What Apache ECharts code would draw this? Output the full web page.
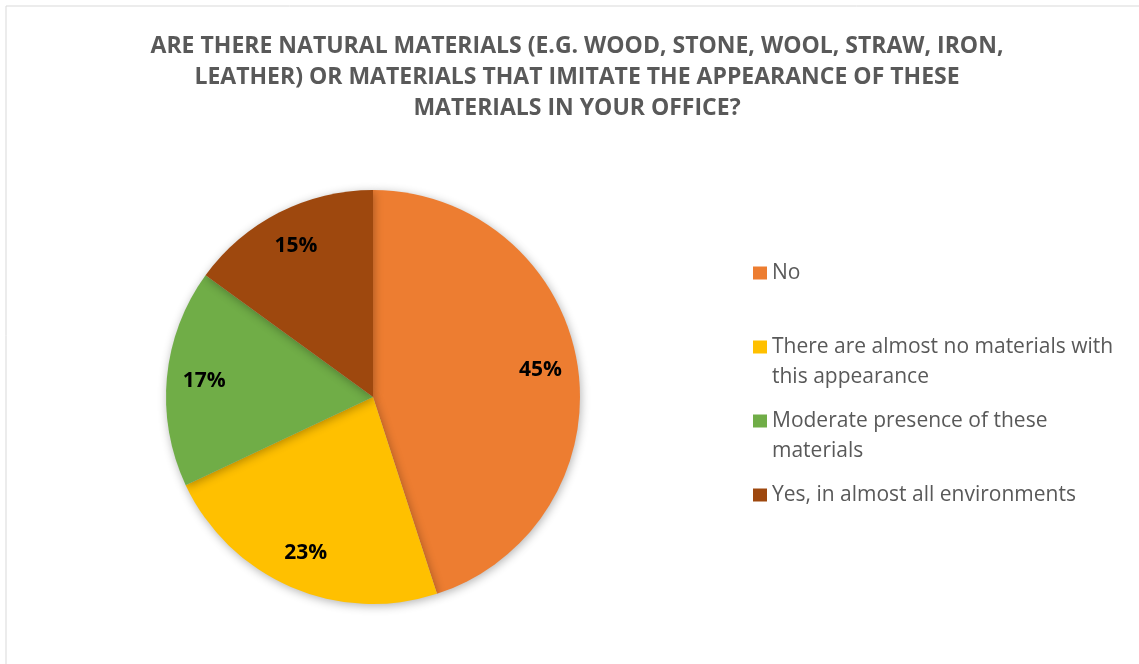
<!DOCTYPE html>
<html>
<head>
<meta charset="utf-8">
<script src="https://cdn.jsdelivr.net/npm/echarts@6/dist/echarts.min.js"></script>
<style>
  html, body { margin: 0; padding: 0; background: #fff; }
  #chart { width: 1139px; height: 664px; }
</style>
</head>
<body>
<div id="chart"></div>
<script>
// Survey answers and their shares (%)
const categories = [
  'No',
  'There are almost no materials with this appearance',
  'Moderate presence of these materials',
  'Yes, in almost all environments'
];
const shares = [45, 23, 17, 15];
const sliceColors = ['#ED7D31', '#FFC000', '#70AD47', '#9E480E'];
// Wrapped legend text for each answer
const legendLines = [
  ['No'],
  ['There are almost no materials with', 'this appearance'],
  ['Moderate presence of these', 'materials'],
  ['Yes, in almost all environments']
];
const titleText = 'ARE THERE NATURAL MATERIALS (E.G. WOOD, STONE, WOOL, STRAW, IRON,\nLEATHER) OR MATERIALS THAT IMITATE THE APPEARANCE OF THESE\nMATERIALS IN YOUR OFFICE?';

const FONT = '"Open Sans", "Noto Sans", sans-serif';
const TEXT_GREY = '#595959';
const LEGEND_LINE_H = 30;
const PIE_CENTER = [373, 397];
const PIE_R = 207;

const pieData = categories.map((name, i) => ({
  name,
  value: shares[i],
  itemStyle: { color: sliceColors[i] }
}));

// One legend block per answer so every entry starts on an even vertical step.
// Two-line entries get an empty leading line, which puts the swatch (centred
// on the block) beside the first line of text.
const firstLineCenters = [273, 347, 421, 495];
const legends = categories.map((name, i) => {
  const multi = legendLines[i].length > 1;
  const lines = multi ? [''].concat(legendLines[i]) : legendLines[i];
  const offset = 5 + (multi ? LEGEND_LINE_H * 1.5 : LEGEND_LINE_H / 2);
  return {
    data: [name],
    orient: 'vertical',
    left: 748,
    top: firstLineCenters[i] - offset,
    icon: 'rect',
    itemWidth: 14,
    itemHeight: 13,
    selectedMode: false,
    formatter: () => lines.join('\n'),
    textStyle: {
      fontFamily: FONT,
      fontSize: 21,
      color: TEXT_GREY,
      lineHeight: LEGEND_LINE_H
    }
  };
});

const chart = echarts.init(document.getElementById('chart'), null, { renderer: 'canvas' });
chart.setOption({
  backgroundColor: '#ffffff',
  animation: false,
  title: {
    text: titleText,
    left: 572,
    top: 26,
    textAlign: 'center',
    textStyle: {
      fontFamily: FONT,
      fontSize: 23,
      fontWeight: 'bold',
      color: TEXT_GREY,
      lineHeight: 31,
      align: 'center'
    }
  },
  legend: legends,
  graphic: [{
    type: 'rect',
    shape: { x: 6, y: 6, width: 1200, height: 700 },
    style: { fill: 'none', stroke: '#d9d9d9', lineWidth: 1 },
    silent: true,
    z: -10
  }],
  series: [
    {
      // the pie itself
      type: 'pie',
      center: PIE_CENTER,
      radius: [0, PIE_R],
      startAngle: 90,
      clockwise: true,
      data: pieData,
      label: { show: false },
      labelLine: { show: false },
      emphasis: { disabled: true },
      itemStyle: {
        shadowBlur: 10,
        shadowColor: 'rgba(0,0,0,0.30)',
        shadowOffsetX: 1,
        shadowOffsetY: 2
      }
    },
    {
      // transparent ring carrying the percentage labels near the rim
      type: 'pie',
      center: PIE_CENTER,
      radius: [PIE_R * 0.61, PIE_R],
      startAngle: 90,
      clockwise: true,
      silent: true,
      data: pieData.map(d => ({ name: d.name, value: d.value, itemStyle: { color: 'rgba(0,0,0,0)' } })),
      itemStyle: { borderWidth: 0 },
      label: {
        show: true,
        position: 'inside',
        formatter: p => p.value + '%',
        fontFamily: FONT,
        fontSize: 21,
        fontWeight: 'bold',
        color: '#000000'
      },
      labelLine: { show: false },
      emphasis: { disabled: true }
    }
  ]
});
</script>
</body>
</html>
